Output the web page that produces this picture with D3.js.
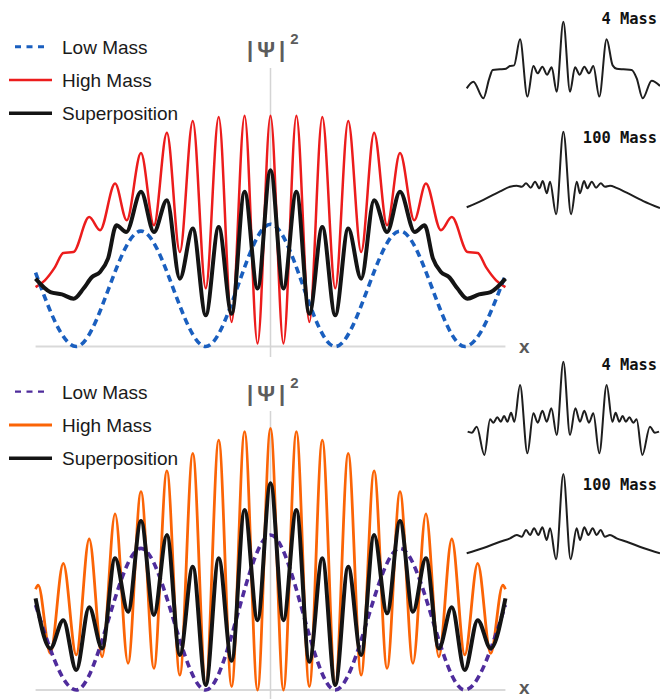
<!DOCTYPE html>
<html>
<head>
<meta charset="utf-8">
<script src="https://cdn.jsdelivr.net/npm/d3@7"></script>
<style>
  html, body { margin: 0; padding: 0; background: #fff; }
  svg { display: block; }
</style>
</head>
<body>
<div id="chart"></div>
<script>
// |psi|^2: x in units of the high-mass fringe spacing, y relative to the tallest peak
const topLow = [[-9.07,0.32],[-7.5,0],[-5,0.50],[-2.5,0],[0,0.53],[2.5,0],[5,0.50],[7.5,0],[9.07,0.31]];
const topHigh = [[-9.07,0.257],[-8.71,0.287],[-8.32,0.344],[-8.0,0.405],[-7.61,0.409],[-7.0,0.561],[-6.58,0.504],[-6.0,0.706],[-5.55,0.547],[-5,0.838],[-4.5,0.525],[-4,0.926],[-3.5,0.409],[-3,0.977],[-2.5,0.252],[-2,0.994],[-1.5,0.106],[-1,1.0],[-0.5,0.013],[0,1.0],[0.5,0.013],[1,1.0],[1.5,0.106],[2,0.994],[2.5,0.252],[3,0.977],[3.5,0.409],[4,0.926],[4.5,0.525],[5,0.838],[5.55,0.547],[6.0,0.706],[6.58,0.504],[7.0,0.561],[7.61,0.409],[8.0,0.405],[8.32,0.344],[8.71,0.287],[9.07,0.257]];
const topSuper = [[-9.07,0.294],[-8.5,0.236],[-8.05,0.226],[-7.6,0.207],[-7.22,0.251],[-6.9,0.300],[-6.58,0.323],[-6.27,0.382],[-5.95,0.525],[-5.57,0.496],[-5,0.670],[-4.5,0.496],[-4,0.634],[-3.5,0.294],[-3,0.511],[-2.5,0.135],[-2,0.518],[-1.5,0.142],[-1,0.670],[-0.5,0.251],[0,0.764],[0.5,0.251],[1,0.670],[1.5,0.142],[2,0.518],[2.5,0.135],[3,0.511],[3.5,0.294],[4,0.634],[4.5,0.496],[5,0.670],[5.57,0.496],[5.95,0.525],[6.27,0.382],[6.58,0.323],[6.9,0.300],[7.22,0.251],[7.6,0.207],[8.05,0.226],[8.5,0.236],[9.07,0.294]];

const botLow = [[-9.07,0.325],[-7.5,0],[-5,0.541],[-2.5,0],[0,0.592],[2.5,0],[5,0.541],[7.5,0],[9.07,0.325]];
const botHigh = [[-9.07,0.385],[-8.97,0.401],[-8.5,0.140],[-8,0.484],[-7.5,0.134],[-7,0.577],[-6.5,0.127],[-6,0.673],[-5.5,0.102],[-5,0.758],[-4.5,0.083],[-4,0.837],[-3.5,0.057],[-3,0.904],[-2.5,0.019],[-2,0.955],[-1.5,0.013],[-1,0.987],[-0.5,0],[0,1.0],[0.5,0],[1,0.987],[1.5,0.013],[2,0.955],[2.5,0.019],[3,0.904],[3.5,0.057],[4,0.837],[4.5,0.083],[5,0.758],[5.5,0.102],[6,0.673],[6.5,0.127],[7,0.577],[7.5,0.134],[8,0.484],[8.5,0.140],[8.97,0.401],[9.07,0.385]];
const botSuper = [[-9.07,0.350],[-8.5,0.159],[-8,0.267],[-7.5,0.076],[-7,0.316],[-6.5,0.159],[-6,0.503],[-5.5,0.299],[-5,0.646],[-4.5,0.287],[-4,0.592],[-3.5,0.134],[-3,0.471],[-2.5,0.019],[-2,0.503],[-1.5,0.112],[-1,0.688],[-0.5,0.267],[0,0.790],[0.5,0.267],[1,0.688],[1.5,0.108],[2,0.503],[2.5,0.019],[3,0.471],[3.5,0.134],[4,0.592],[4.5,0.293],[5,0.646],[5.5,0.299],[6,0.503],[6.5,0.159],[7,0.316],[7.5,0.076],[8,0.267],[8.5,0.159],[9.07,0.350]];

// small insets: u in [-1, 1], v in [0, 1]
const inset4Top = [[-1,0.130],[-0.931,0.217],[-0.828,0],[-0.766,0.261],[-0.731,0.370],[-0.655,0.378],[-0.593,0.387],[-0.552,0.422],[-0.510,0.430],[-0.448,0.770],[-0.372,0.022],[-0.310,0.422],[-0.266,0.326],[-0.217,0.413],[-0.169,0.309],[-0.121,0.404],[-0.069,0.087],[0,1],[0.069,0.087],[0.121,0.404],[0.169,0.309],[0.217,0.413],[0.266,0.326],[0.310,0.422],[0.372,0.022],[0.448,0.770],[0.510,0.430],[0.552,0.387],[0.621,0.378],[0.707,0.370],[0.759,0.261],[0.821,0],[0.914,0.230],[1,0.161]];
const inset100Top = [[-1,0.085],[-0.827,0.175],[-0.655,0.277],[-0.551,0.334],[-0.482,0.346],[-0.430,0.334],[-0.386,0.375],[-0.337,0.322],[-0.293,0.395],[-0.248,0.315],[-0.213,0.404],[-0.172,0.254],[-0.138,0.395],[-0.075,0],[0,1],[0.080,0],[0.139,0.395],[0.172,0.254],[0.214,0.404],[0.248,0.315],[0.294,0.395],[0.338,0.322],[0.387,0.375],[0.431,0.334],[0.483,0.346],[0.55,0.320],[0.655,0.262],[0.827,0.160],[1,0.076]];
const inset4Bot = [[-0.99,0.250],[-0.947,0.239],[-0.896,0.303],[-0.817,0],[-0.758,0.383],[-0.724,0.346],[-0.683,0.404],[-0.647,0.357],[-0.613,0.418],[-0.579,0.357],[-0.541,0.453],[-0.507,0.357],[-0.448,0.750],[-0.372,0.018],[-0.310,0.447],[-0.265,0.346],[-0.217,0.475],[-0.172,0.357],[-0.124,0.500],[-0.069,0.214],[0,1],[0.069,0.214],[0.124,0.500],[0.172,0.357],[0.217,0.475],[0.265,0.346],[0.310,0.447],[0.372,0.018],[0.448,0.750],[0.507,0.357],[0.541,0.453],[0.579,0.357],[0.613,0.418],[0.647,0.357],[0.683,0.404],[0.724,0.346],[0.758,0.383],[0.817,0],[0.896,0.303],[0.947,0.239],[0.99,0.250]];
const inset100Bot = [[-1,0.070],[-0.827,0.132],[-0.655,0.206],[-0.551,0.246],[-0.482,0.285],[-0.430,0.265],[-0.386,0.343],[-0.344,0.285],[-0.303,0.363],[-0.259,0.285],[-0.217,0.375],[-0.172,0.226],[-0.138,0.363],[-0.075,0],[0,1],[0.075,0],[0.138,0.363],[0.172,0.226],[0.217,0.375],[0.259,0.285],[0.303,0.363],[0.344,0.285],[0.386,0.343],[0.430,0.265],[0.482,0.285],[0.551,0.246],[0.655,0.206],[0.827,0.132],[1,0.070]];

const legendLabels = ["Low Mass", "High Mass", "Superposition"];
const insetLabels = ["4 Mass", "100 Mass"];

const width = 660, height = 699;

const svg = d3.select("#chart").append("svg")
    .attr("width", width)
    .attr("height", height);

svg.append("rect").attr("width", width).attr("height", height).attr("fill", "#fff");

const x = d3.scaleLinear().domain([-9.1, 9.1]).range([34.8, 506.2]);

function drawPanel(cfg) {
    const y = d3.scaleLinear().domain([0, 1]).range([cfg.base, cfg.top]);
    const line = d3.line()
        .x(d => x(d[0]))
        .y(d => y(d[1]))
        .curve(d3.curveMonotoneX);

    const g = svg.append("g");

    // axes
    g.append("line")
        .attr("x1", x(-9.07)).attr("x2", x(9.07))
        .attr("y1", y(0)).attr("y2", y(0))
        .attr("stroke", "#d9d9d9").attr("stroke-width", 2);
    g.append("line")
        .attr("x1", x(0)).attr("x2", x(0))
        .attr("y1", cfg.axisTop).attr("y2", cfg.axisBottom)
        .attr("stroke", "#d4d4d4").attr("stroke-width", 1.5);

    g.append("text")
        .attr("x", 519).attr("y", cfg.xLabelY)
        .attr("font-family", "Liberation Sans, Arial, sans-serif")
        .attr("font-size", 19).attr("font-weight", "bold")
        .attr("fill", "#595959")
        .text("x");

    const lbl = g.append("text")
        .attr("x", 247).attr("y", cfg.labelY)
        .attr("font-family", "Liberation Sans, Arial, sans-serif")
        .attr("font-size", 22).attr("font-weight", "bold")
        .attr("fill", "#5c5c5c");
    lbl.append("tspan").text("|");
    lbl.append("tspan").attr("dx", 4).text("Ψ");
    lbl.append("tspan").attr("dx", 4).text("|");
    lbl.append("tspan").attr("dx", 5).attr("dy", -13).attr("font-size", 15).text("2");

    // curves
    g.append("path").datum(cfg.high)
        .attr("d", line).attr("fill", "none")
        .attr("stroke", cfg.highColor).attr("stroke-width", cfg.highWidth);
    g.append("path").datum(cfg.low)
        .attr("d", line).attr("fill", "none")
        .attr("stroke", cfg.lowColor).attr("stroke-width", 3.6)
        .attr("stroke-dasharray", "7,4.5");
    g.append("path").datum(cfg.sup)
        .attr("d", line).attr("fill", "none")
        .attr("stroke", "#141414").attr("stroke-width", 4)
        .attr("stroke-linejoin", "round");

    // legend
    const ly = cfg.legendY;
    const lg = g.append("g");
    lg.append("line").attr("x1", 15).attr("x2", 49).attr("y1", ly[0]).attr("y2", ly[0])
        .attr("stroke", cfg.lowColor).attr("stroke-width", cfg.legendDashWidth)
        .attr("stroke-dasharray", "6,5.5");
    lg.append("line").attr("x1", 9).attr("x2", 52).attr("y1", ly[1]).attr("y2", ly[1])
        .attr("stroke", cfg.highColor).attr("stroke-width", cfg.highWidth);
    lg.append("line").attr("x1", 9).attr("x2", 52).attr("y1", ly[2]).attr("y2", ly[2])
        .attr("stroke", "#141414").attr("stroke-width", 3.5);
    lg.selectAll("text").data(legendLabels).enter().append("text")
        .attr("x", 62).attr("y", (d, i) => ly[i] + 7)
        .attr("font-family", "Liberation Sans, Arial, sans-serif")
        .attr("font-size", 19).attr("fill", "#1a1a1a")
        .text(d => d);
}

function drawInset(data, v0, v1, label, labelY) {
    const u = d3.scaleLinear().domain([-1, 1]).range([466.7, 660]);
    const v = d3.scaleLinear().domain([0, 1]).range([v0, v1]);
    svg.append("path").datum(data)
        .attr("d", d3.line().x(d => u(d[0])).y(d => v(d[1])).curve(d3.curveMonotoneX))
        .attr("fill", "none").attr("stroke", "#1e1e1e").attr("stroke-width", 2)
        .attr("stroke-linejoin", "round");
    svg.append("text")
        .attr("x", 657).attr("y", labelY)
        .attr("text-anchor", "end")
        .attr("font-family", "DejaVu Sans Mono, monospace")
        .attr("font-size", 15.4).attr("font-weight", "bold")
        .attr("fill", "#111")
        .text(label);
}

drawPanel({
    base: 346.5, top: 115.7, axisTop: 68, axisBottom: 357, labelY: 57, xLabelY: 353,
    low: topLow, high: topHigh, sup: topSuper,
    lowColor: "#1a5fbf", highColor: "#ec1c1c", highWidth: 2.5, legendDashWidth: 3,
    legendY: [46.7, 80, 113.3]
});
drawPanel({
    base: 690, top: 428.3, axisTop: 411, axisBottom: 699, labelY: 401, xLabelY: 694,
    low: botLow, high: botHigh, sup: botSuper,
    lowColor: "#4f2c9c", highColor: "#fb6406", highWidth: 2.8, legendDashWidth: 2.2,
    legendY: [391.7, 425, 458.3]
});

drawInset(inset4Top, 98.3, 21.7, insetLabels[0], 23.5);
drawInset(inset100Top, 214.3, 131.7, insetLabels[1], 143.3);
drawInset(inset4Bot, 455, 361.7, insetLabels[0], 370);
drawInset(inset100Bot, 559.3, 474, insetLabels[1], 490);
</script>
</body>
</html>
